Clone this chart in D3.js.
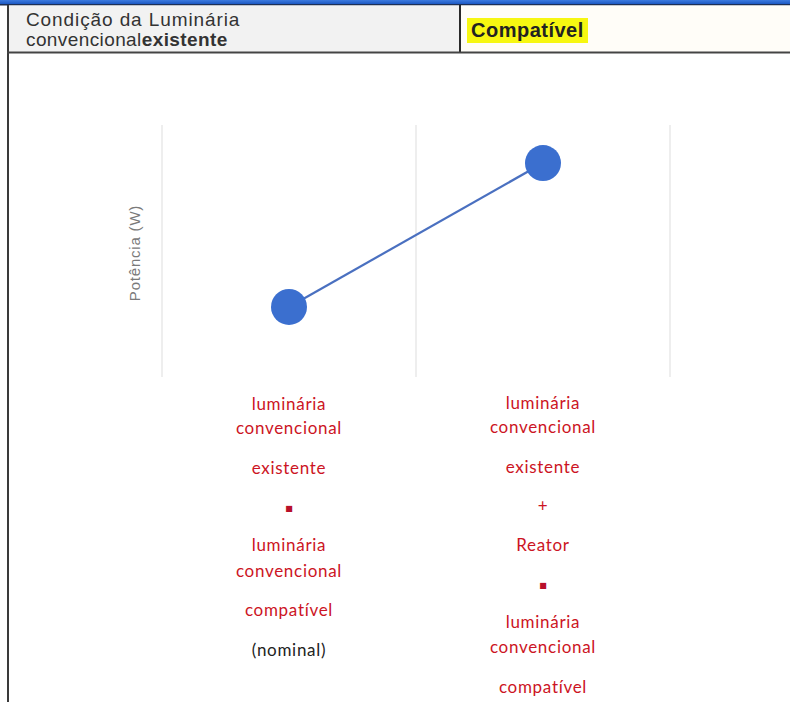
<!DOCTYPE html>
<html><head><meta charset="utf-8">
<script src="https://cdn.jsdelivr.net/npm/d3@7"></script>
<style>
html,body{margin:0;padding:0;background:#fff;}
svg{display:block;}
</style></head>
<body>
<script>
// ---- data ----
const categories = ["existente_compativel", "existente_reator_compativel"];
const values = [27.8, 84.9];
const yDomain = [0, 100];
const yLabel = "Potência (W)";
const headerLeft = ["Condição da Luminária", "convencional", "existente"];
const headerRight = "Compatível";
const labelLines = [
  [["luminária","r"],["convencional","r"],["existente","r"],["■","r"],["luminária","r"],["convencional","r"],["compatível","r"],["(nominal)","k"]],
  [["luminária","r"],["convencional","r"],["existente","r"],["+","r"],["Reator","r"],["■","r"],["luminária","r"],["convencional","r"],["compatível","r"]]
];
const lineOffsets = [
  [0,24,64,101,141,167,206,246],
  [0,24,64,103,142,179,219,244,284]
];

const W = 790, H = 702;
const svg = d3.select("body").append("svg").attr("width", W).attr("height", H);

// top blue band
const defs = svg.append("defs");
const g1 = defs.append("linearGradient").attr("id","bg").attr("x1",0).attr("x2",0).attr("y1",0).attr("y2",1);
g1.append("stop").attr("offset","0%").attr("stop-color","#3d7be0");
g1.append("stop").attr("offset","100%").attr("stop-color","#1c58c2");
svg.append("rect").attr("x",0).attr("y",0).attr("width",W).attr("height",4).attr("fill","url(#bg)");
svg.append("rect").attr("x",0).attr("y",4).attr("width",W).attr("height",1.5).attr("fill","#1d2f55");

// header cells
svg.append("rect").attr("x",8).attr("y",5.5).attr("width",452).attr("height",46.5).attr("fill","#f2f2f2");
svg.append("rect").attr("x",461).attr("y",5.5).attr("width",W-461).attr("height",46.5).attr("fill","#fffdf8");
// borders
svg.append("rect").attr("x",7).attr("y",5).attr("width",2).attr("height",H-5).attr("fill","#3a3a3a");
svg.append("rect").attr("x",459).attr("y",5).attr("width",2).attr("height",48).attr("fill","#2a2a2a");
svg.append("rect").attr("x",7).attr("y",51.5).attr("width",W-7).attr("height",2).attr("fill","#444");

const hf = "'Liberation Sans', Arial, sans-serif";
svg.append("text").attr("x",26).attr("y",26).attr("font-family",hf).attr("font-size",19).attr("letter-spacing",0.9).attr("fill","#333")
  .text(headerLeft[0]);
const t2 = svg.append("text").attr("x",26).attr("y",46).attr("font-family",hf).attr("font-size",19).attr("letter-spacing",0.4).attr("fill","#333");
t2.append("tspan").text(headerLeft[1]);
t2.append("tspan").attr("font-weight","bold").text(headerLeft[2]);

svg.append("rect").attr("x",467).attr("y",18).attr("width",121).attr("height",25).attr("fill","#f7f711");
svg.append("text").attr("x",471).attr("y",37).attr("font-family",hf).attr("font-size",20).attr("letter-spacing",0.5).attr("font-weight","bold").attr("fill","#222")
  .text(headerRight);

// chart
const x = d3.scaleBand().domain(categories).range([162, 670]).paddingInner(0).paddingOuter(0);
const y = d3.scaleLinear().domain(yDomain).range([377, 125]);

// vertical gridlines at band edges
const edges = categories.map(c => x(c)).concat([x(categories[categories.length-1]) + x.bandwidth()]);
svg.append("g").selectAll("line").data(edges).join("line")
  .attr("x1", d => d).attr("x2", d => d).attr("y1", 125).attr("y2", 377)
  .attr("stroke","#e3e3e3").attr("stroke-width",1.2);

// y label
svg.append("text").attr("transform","translate(140,253) rotate(-90)").attr("text-anchor","middle")
  .attr("font-family",hf).attr("font-size",15).attr("letter-spacing",0.8).attr("fill","#7a7a7a").text(yLabel);

const pts = categories.map((c,i) => ({c, v: values[i]}));
const line = d3.line().x(d => x(d.c) + x.bandwidth()/2).y(d => y(d.v));
svg.append("path").datum(pts).attr("d", line).attr("fill","none").attr("stroke","#4a70c0").attr("stroke-width",2.2);
svg.append("g").selectAll("circle").data(pts).join("circle")
  .attr("cx", d => x(d.c) + x.bandwidth()/2).attr("cy", d => y(d.v)).attr("r",18)
  .attr("fill","#3b6fcf");

// category labels
const lf = "Lato, 'Open Sans', sans-serif";
const baseY = [410, 409];
categories.forEach((c,i) => {
  const cx = x(c) + x.bandwidth()/2;
  const g = svg.append("g");
  g.selectAll("text").data(labelLines[i]).join("text")
    .attr("x", cx).attr("y", (d,j) => baseY[i] + lineOffsets[i][j])
    .attr("text-anchor","middle").attr("font-family", d => d[0] === "■" ? "'DejaVu Sans'" : lf)
    .attr("letter-spacing", d => d[0] === "■" ? 0 : 0.7)
    .attr("fill", d => d[1] === "r" ? (d[0] === "■" ? "#b8102a" : "#cc1424") : "#222")
    .attr("font-size", d => d[0] === "■" ? 8 : 17)
    .text(d => d[0]);
});
</script>
</body></html>
